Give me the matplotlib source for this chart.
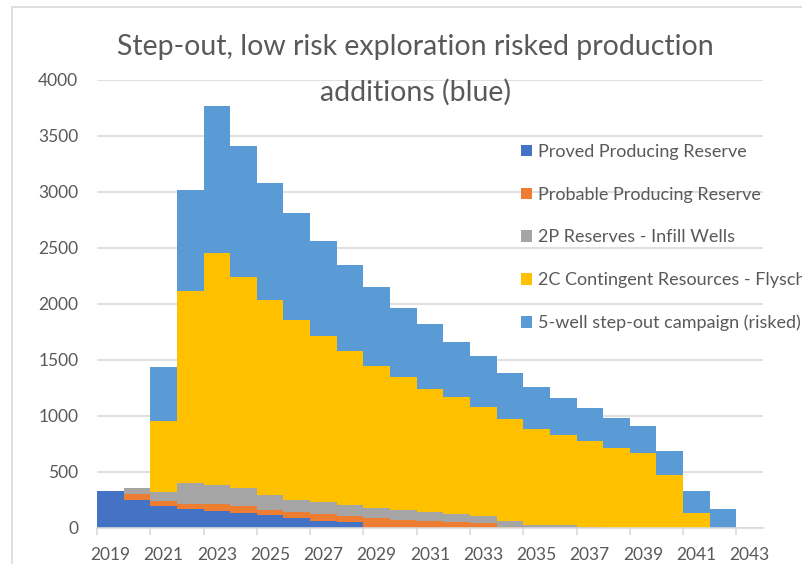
import matplotlib
matplotlib.use("Agg")
import matplotlib.pyplot as plt
import numpy as np
from matplotlib.patches import Patch, Rectangle

plt.rcParams["font.family"] = ["Lato", "DejaVu Sans"]

years = np.arange(2019, 2043)
proved = [330, 254, 200, 170, 149, 131, 114, 93, 66, 57, 0, 0,
          0, 0, 0, 0, 0, 0, 0, 0, 0, 0, 0, 0]
probable = [0, 54, 45, 48, 66, 66, 44, 47, 57, 54, 93, 75,
            66, 54, 48, 9, 0, 0, 0, 0, 0, 0, 0, 0]
infill = [0, 48, 72, 188, 165, 156, 135, 114, 113, 98, 86, 83,
          74, 69, 63, 57, 27, 27, 9, 0, 0, 0, 0, 0]
flysch = [0, 0, 639, 1713, 2078, 1888, 1743, 1603, 1476, 1372, 1271, 1187,
          1100, 1043, 968, 908, 861, 807, 765, 711, 669, 469, 137, 0]
stepout = [0, 0, 485, 899, 1310, 1173, 1047, 953, 850, 767, 699, 622,
           579, 499, 454, 407, 367, 329, 293, 269, 246, 221, 192, 167]

series = [
    ("Proved Producing Reserve", proved, "#4472C4"),
    ("Probable Producing Reserve", probable, "#ED7D31"),
    ("2P Reserves - Infill Wells", infill, "#A5A5A5"),
    ("2C Contingent Resources - Flysch", flysch, "#FFC000"),
    ("5-well step-out campaign (risked)", stepout, "#5B9BD5"),
]

W, H = 802, 564
fig = plt.figure(figsize=(W / 100, H / 100), dpi=100)
ax = fig.add_axes([97 / W, 36 / H, (763 - 97) / W, (528 - 80) / H])

bottom = np.zeros(len(years))
for name, vals, col in series:
    vals = np.array(vals, dtype=float)
    ax.bar(years, vals, width=1.0, align="edge", bottom=bottom,
           color=col, linewidth=0)
    bottom += vals

ax.set_xlim(2019, 2044)
ax.set_ylim(0, 4000)
ax.set_yticks(np.arange(0, 4001, 500))
ax.set_axisbelow(True)
ax.yaxis.grid(True, color="#d9d9d9", linewidth=1.2)

# ticks between categories, labels at category centres
odd = np.arange(2019, 2044, 2)
ax.set_xticks(odd)
ax.set_xticklabels([])
ax.set_xticks(odd + 0.5, minor=True)
ax.set_xticklabels([str(y) for y in odd], minor=True)
ax.tick_params(axis="x", which="major", length=5, width=1.2,
               color="#d9d9d9", direction="out")
ax.tick_params(axis="x", which="minor", length=0, pad=13.5,
               labelsize=12.5, labelcolor="#595959")
ax.tick_params(axis="y", length=0, pad=13.5, labelsize=12.5, labelcolor="#595959")

for s in ["top", "right", "left"]:
    ax.spines[s].set_visible(False)
ax.spines["bottom"].set_color("#d9d9d9")
ax.spines["bottom"].set_linewidth(1.2)

fig.text(415 / W, 1 - 55 / H, "Step-out, low risk exploration risked production",
         ha="center", va="baseline", fontsize=20.5, color="#595959")
fig.text(415 / W, 1 - 101 / H, "additions (blue)",
         ha="center", va="baseline", fontsize=20.5, color="#595959")

# legend runs past the right edge like the original (clipped labels)
handles = [Patch(facecolor=c, edgecolor="none", label=n) for n, v, c in series]
ax.legend(handles=handles, loc="upper left",
          bbox_to_anchor=(521 / W, 1 - 144 / H), bbox_transform=fig.transFigure,
          frameon=False, fontsize=13, labelcolor="#595959",
          handlelength=0.62, handleheight=0.62, handletextpad=0.3,
          labelspacing=1.48, borderpad=0, borderaxespad=0)

fig.patches.append(Rectangle((12 / W, -0.1), 1.2, 1 - 7 / H + 0.1,
                             transform=fig.transFigure, fill=False,
                             edgecolor="#d9d9d9", linewidth=1.2))

fig.savefig("out.png", dpi=100)
